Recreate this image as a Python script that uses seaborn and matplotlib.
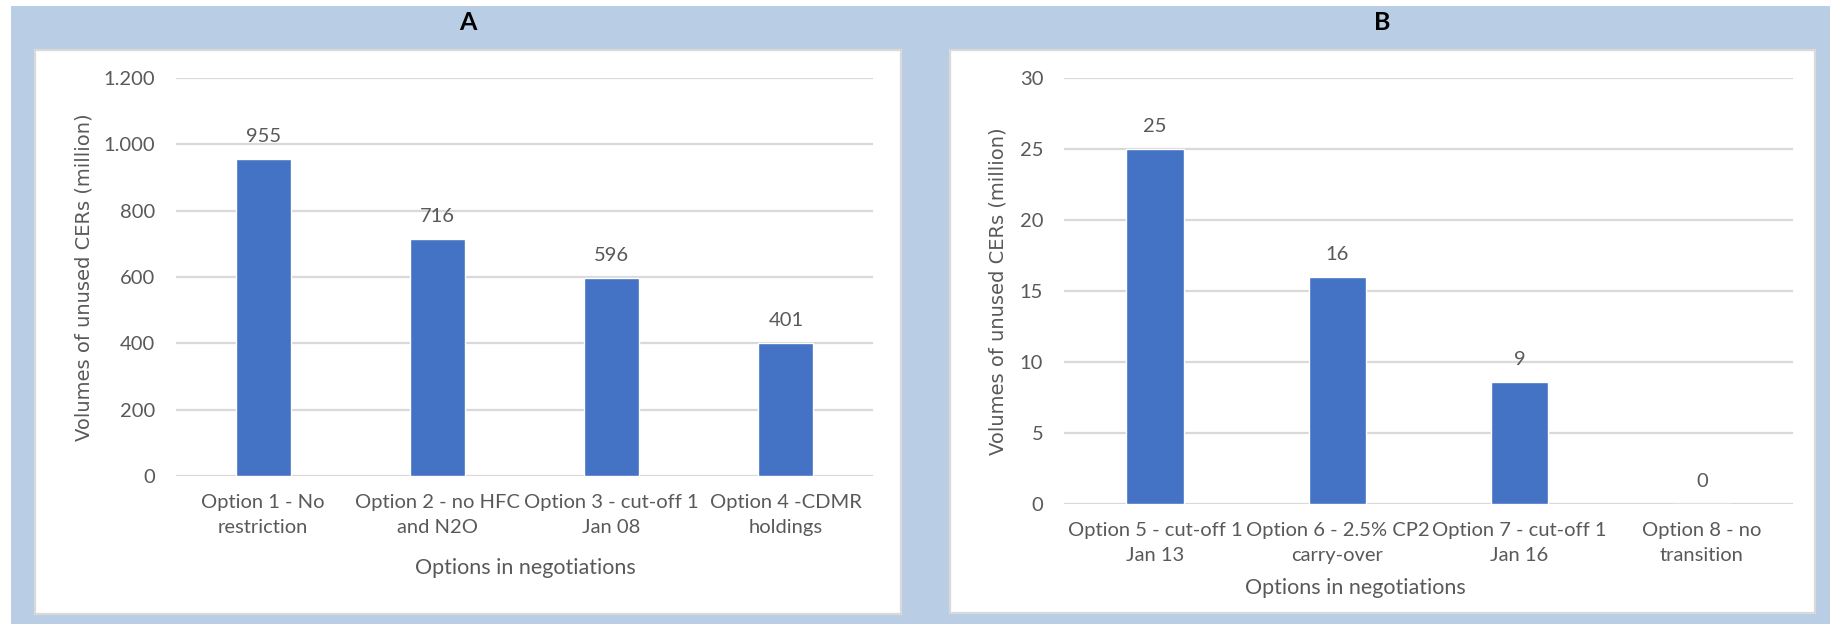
import matplotlib
matplotlib.use("Agg")
import matplotlib.pyplot as plt
from matplotlib.patches import Rectangle
import seaborn as sns
import pandas as pd

# ---- data ----
cats_a = ["Option 1 - No\nrestriction", "Option 2 - no HFC\nand N2O",
          "Option 3 - cut-off 1\nJan 08", "Option 4 -CDMR\nholdings"]
vals_a = [955, 716, 596, 401]
yticks_a = [0, 200, 400, 600, 800, 1000, 1200]
ytick_labels_a = ["0", "200", "400", "600", "800", "1.000", "1.200"]

cats_b = ["Option 5 - cut-off 1\nJan 13", "Option 6 - 2.5% CP2\ncarry-over",
          "Option 7 - cut-off 1\nJan 16", "Option 8 - no\ntransition"]
vals_b = [25, 16, 8.6, 0]
yticks_b = [0, 5, 10, 15, 20, 25, 30]
ytick_labels_b = ["0", "5", "10", "15", "20", "25", "30"]

titles = ["A", "B"]
ylabel = "Volumes of unused CERs (million)"
xlabel = "Options in negotiations"

# ---- style ----
sns.set_theme(style="white")
plt.rcParams['font.family'] = ['Lato', 'DejaVu Sans']

W, H = 1831, 624
BAR = "#4472C4"
GRID = "#D9D9D9"
TXT = "#595959"
BG = "#B9CDE4"

fig = plt.figure(figsize=(W / 100, H / 100), dpi=100)
fig.patch.set_facecolor("white")

def fx(px):
    return px / W

def fy(py):
    return 1 - py / H

# blue background
fig.patches.append(Rectangle((fx(11), 0), 1 - fx(11), fy(6), transform=fig.transFigure,
                             facecolor=BG, edgecolor="none", zorder=-10))
# white panels
for (x0, x1, y0, y1) in [(35, 901, 50, 614), (950, 1815, 50, 613)]:
    fig.patches.append(Rectangle((fx(x0), fy(y1)), fx(x1) - fx(x0), fy(y0) - fy(y1),
                                 transform=fig.transFigure, facecolor="white",
                                 edgecolor=GRID, linewidth=1.6, zorder=-5))

panels = [
    dict(cats=cats_a, vals=vals_a, yt=yticks_a, ytl=ytick_labels_a, ylim=1200,
         box=(176, 873, 78, 476), title_x=468, ylab_x=84, ylab_y=277,
         xlab=(525, 568)),
    dict(cats=cats_b, vals=vals_b, yt=yticks_b, ytl=ytick_labels_b, ylim=30,
         box=(1064, 1793, 78, 504), title_x=1382, ylab_x=998, ylab_y=291,
         xlab=(1355, 588)),
]

for p, title in zip(panels, titles):
    x0, x1, y0, y1 = p["box"]
    ax = fig.add_axes([fx(x0), fy(y1), fx(x1) - fx(x0), fy(y0) - fy(y1)])
    ax.set_facecolor("none")
    df = pd.DataFrame({"cat": p["cats"], "val": p["vals"]})
    sns.barplot(data=df, x="cat", y="val", color=BAR, saturation=1, width=0.315,
                ax=ax, zorder=3)
    ax.set_xlim(-0.5, len(p["cats"]) - 0.5)
    ax.set_ylim(0, p["ylim"])
    ax.set_yticks(p["yt"])
    ax.set_yticklabels(p["ytl"])
    ax.yaxis.grid(True, color=GRID, linewidth=1.6, zorder=0)
    ax.set_axisbelow(True)
    for s in ax.spines.values():
        s.set_visible(False)
    ax.tick_params(axis="both", length=0, labelsize=14.5, colors=TXT)
    ax.tick_params(axis="y", pad=15)
    ax.tick_params(axis="x", pad=13)
    for lab in ax.get_xticklabels():
        lab.set_linespacing(1.6)
    ax.set_xlabel("")
    ax.set_ylabel("")
    labels = [f"{v:.0f}" for v in p["vals"]]
    ax.bar_label(ax.containers[0], labels=labels, padding=10, fontsize=14.5, color=TXT)

    fig.text(fx(p["title_x"]), fy(22), title, ha="center", va="center",
             fontsize=18, fontweight="bold", color="black")
    fig.text(fx(p["ylab_x"]), fy(p["ylab_y"]), ylabel, rotation=90, ha="center",
             va="center", fontsize=14, color=TXT, family="DejaVu Sans")
    fig.text(fx(p["xlab"][0]), fy(p["xlab"][1]), xlabel, ha="center", va="center",
             fontsize=15.5, color=TXT)

fig.savefig("out.png", dpi=100, facecolor=fig.get_facecolor())
